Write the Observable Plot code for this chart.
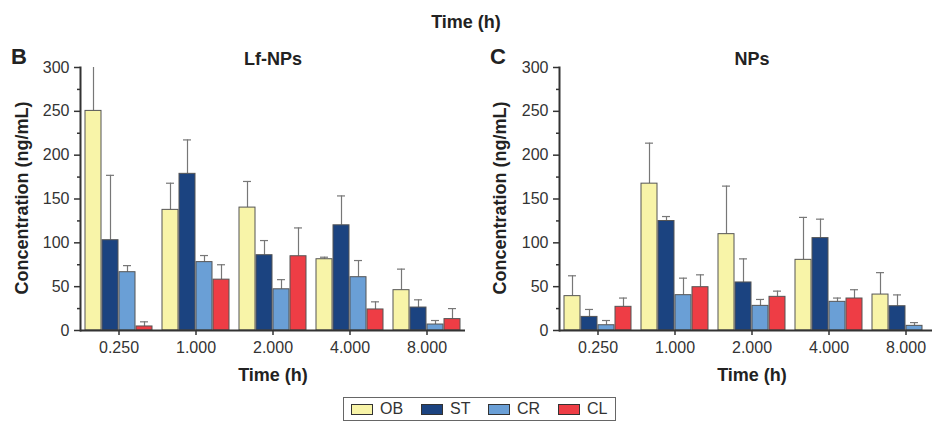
<!DOCTYPE html>
<html>
<head>
<meta charset="utf-8">
<script src="https://cdn.jsdelivr.net/npm/d3@7"></script>
<script src="https://cdn.jsdelivr.net/npm/@observablehq/plot@0.6"></script>
<style>
  html, body { margin: 0; padding: 0; background: #fff; }
  #wrap { position: relative; width: 932px; height: 423px; overflow: hidden; font-family: Arial, "Liberation Sans", sans-serif; color: #222; }
  .abs { position: absolute; white-space: nowrap; }
  .bold { font-weight: bold; }
  .ylab { transform: translate(-50%, -50%) rotate(-90deg); font-size: 18px; font-weight: bold; }
  .ctr { transform: translate(-50%, -50%); }
  #legend { position: absolute; left: 343px; top: 397px; width: 273px; height: 24px; border: 1px solid #666; box-sizing: border-box; display: flex; align-items: center; font-size: 16px; color: #333; }
  .sw { display: inline-block; width: 20px; height: 9px; border: 1px solid #333; }
  #left svg, #right svg { max-width: none !important; }
</style>
</head>
<body>
<div id="wrap">
  <div class="abs bold ctr" style="left:466px; top:22px; font-size:18px;">Time (h)</div>
  <div class="abs bold ctr" style="left:19px; top:57px; font-size:22px;">B</div>
  <div class="abs bold ctr" style="left:498px; top:57px; font-size:22px;">C</div>
  <div class="abs bold ctr" style="left:273px; top:59px; font-size:18px;">Lf-NPs</div>
  <div class="abs bold ctr" style="left:752px; top:59px; font-size:18px;">NPs</div>
  <div class="abs ylab" style="left:22px; top:198px;">Concentration (ng/mL)</div>
  <div class="abs ylab" style="left:500px; top:198px;">Concentration (ng/mL)</div>
  <div class="abs bold ctr" style="left:273px; top:375px; font-size:18px;">Time (h)</div>
  <div class="abs bold ctr" style="left:752px; top:375px; font-size:18px;">Time (h)</div>
  <div id="left" class="abs" style="left:0; top:0; width:466px; height:390px;"></div>
  <div id="right" class="abs" style="left:466px; top:0; width:479px; height:390px;"></div>
  <div id="legend"></div>
</div>
<script>
// Categories
const times = ["0.250", "1.000", "2.000", "4.000", "8.000"];
const series = ["OB", "ST", "CR", "CL"];
const colors = ["#f8f4a8", "#1b4380", "#6a9fd6", "#ee3d45"];
const yTicks = [0, 50, 100, 150, 200, 250, 300];
const yMinor = [25, 75, 125, 175, 225, 275];

// Lf-NPs (panel B): means and SDs per series, in order of times
const lfOB = [250.5, 137.6, 140.2, 81.3, 46.0];
const lfOBsd = [55.0, 30.4, 29.8, 2.3, 24.0];
const lfST = [103.0, 178.7, 85.9, 120.0, 26.2];
const lfSTsd = [74.0, 38.7, 16.7, 33.5, 8.8];
const lfCR = [66.5, 78.0, 47.0, 60.8, 6.8];
const lfCRsd = [7.5, 7.5, 11.0, 19.0, 4.6];
const lfCL = [4.6, 58.0, 84.7, 24.0, 13.0];
const lfCLsd = [5.3, 17.0, 32.3, 8.7, 12.0];

// NPs (panel C)
const npOB = [39.2, 167.5, 109.9, 80.6, 41.0];
const npOBsd = [23.2, 46.2, 54.8, 48.4, 25.0];
const npST = [15.5, 124.9, 54.8, 105.4, 27.7];
const npSTsd = [8.5, 5.1, 26.9, 21.6, 12.9];
const npCR = [6.0, 40.3, 28.1, 32.7, 5.3];
const npCRsd = [5.4, 19.4, 7.3, 4.3, 3.7];
const npCL = [27.0, 49.4, 38.4, 36.5, null];
const npCLsd = [10.0, 14.1, 6.5, 10.0, null];

function rows(vals, sds) {
  const out = [];
  times.forEach((t, i) => {
    series.forEach((s, j) => {
      if (vals[j][i] != null) out.push({time: t, series: s, value: vals[j][i], upper: vals[j][i] + sds[j][i]});
    });
  });
  return out;
}

function panel(data, width, marginLeft) {
  return Plot.plot({
    width, height: 390,
    marginLeft, marginRight: 0, marginTop: 67, marginBottom: 60,
    style: {fontFamily: 'Arial, "Liberation Sans", sans-serif', fontSize: "16px", color: "#333", background: "transparent", overflow: "visible"},
    facet: {data, x: "time"},
    fx: {domain: times, paddingInner: 0, paddingOuter: 0, label: null, axis: null},
    x: {domain: series, paddingInner: 0.06, paddingOuter: 0.28, axis: null},
    y: {domain: [0, 300], axis: null},
    color: {domain: series, range: colors},
    marks: [
      Plot.axisFx({anchor: "bottom", tickSize: 5, tickPadding: 6, label: null, strokeWidth: 1.5, fontSize: 16}),
      Plot.axisY({ticks: yTicks, tickSize: 6, tickPadding: 5, label: null, strokeWidth: 1.5, fontSize: 16}),
      Plot.axisY({ticks: yMinor, tickSize: 3, tickFormat: () => "", label: null, strokeWidth: 1.5}),
      Plot.ruleX(data, {x: "series", y1: "value", y2: "upper", stroke: "#777", strokeWidth: 1.2, clip: true}),
      Plot.tickY(data, {x: "series", y: "upper", stroke: "#777", strokeWidth: 1.2, insetLeft: 4, insetRight: 4, clip: true}),
      Plot.barY(data, {x: "series", y: "value", fill: "series", stroke: "#555", strokeWidth: 1}),
      Plot.ruleY([0], {stroke: "#333", strokeWidth: 2}),
      Plot.frame({anchor: "left", facetAnchor: "left", stroke: "#333", strokeWidth: 2})
    ]
  });
}

const lfData = rows([lfOB, lfST, lfCR, lfCL], [lfOBsd, lfSTsd, lfCRsd, lfCLsd]);
const npData = rows([npOB, npST, npCR, npCL], [npOBsd, npSTsd, npCRsd, npCLsd]);

document.getElementById("left").appendChild(panel(lfData, 466, 78));
document.getElementById("right").appendChild(panel(npData, 479, 91));

// Legend
const leg = document.getElementById("legend");
const pos = [7, 77, 144, 214];
series.forEach((s, i) => {
  const item = document.createElement("div");
  item.style.cssText = `position:absolute; left:${pos[i]}px; top:0; height:22px; display:flex; align-items:center;`;
  const sw = document.createElement("span");
  sw.className = "sw";
  sw.style.background = colors[i];
  const tx = document.createElement("span");
  tx.textContent = s;
  tx.style.marginLeft = "7px";
  item.appendChild(sw);
  item.appendChild(tx);
  leg.appendChild(item);
});
</script>
</body>
</html>
